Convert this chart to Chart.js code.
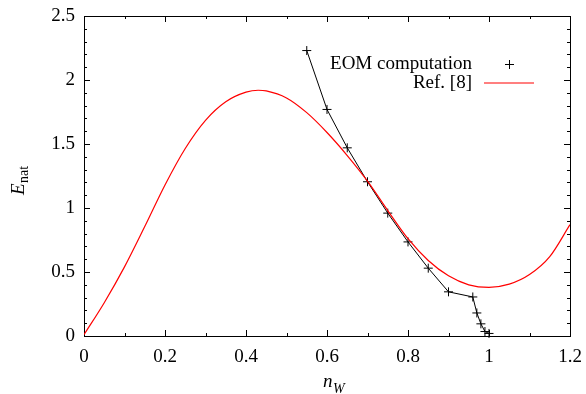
<!DOCTYPE html>
<html>
<head>
<meta charset="utf-8">
<script src="https://cdn.jsdelivr.net/npm/chart.js@4/dist/chart.umd.min.js"></script>
<style>
  html, body { margin: 0; padding: 0; background: #fff; }
  canvas { display: block; }
</style>
</head>
<body>
<canvas id="chart" width="586" height="394"></canvas>
<script>
// EOM computation (black crosses)
const eomX = [0.55, 0.6, 0.65, 0.7, 0.75, 0.8, 0.85, 0.9, 0.96, 0.97, 0.98, 0.99, 1.0];
const eomY = [2.23, 1.77, 1.47, 1.205, 0.96, 0.735, 0.53, 0.345, 0.305, 0.18, 0.095, 0.035, 0.02];

// Ref. [8] (red curve)
const refX = [0, 0.05, 0.1, 0.15, 0.2, 0.25, 0.3, 0.35, 0.4, 0.43, 0.45, 0.5, 0.55, 0.6, 0.65, 0.7, 0.75, 0.8, 0.85, 0.9, 0.95, 1.0, 1.05, 1.1, 1.15, 1.2];
const refY = [0.01, 0.26, 0.54, 0.855, 1.18, 1.465, 1.685, 1.83, 1.905, 1.92, 1.915, 1.86, 1.745, 1.59, 1.41, 1.21, 0.98, 0.76, 0.59, 0.47, 0.40, 0.38, 0.405, 0.48, 0.62, 0.87];

const xTicks = [0, 0.2, 0.4, 0.6, 0.8, 1, 1.2];
const yTicks = [0, 0.5, 1, 1.5, 2, 2.5];
const legendLabels = ['EOM computation', 'Ref. [8]'];

const FONT = '"Liberation Serif", "DejaVu Serif", serif';

const toPoints = (xs, ys) => xs.map((x, i) => ({ x: x, y: ys[i] }));

// frame + inward tick marks on all four sides, titles and legend
const framePlugin = {
    id: 'frame',
    beforeDatasetsDraw(chart) {
        const { ctx, chartArea: a, scales } = chart;
        ctx.save();
        ctx.strokeStyle = '#000';
        ctx.lineWidth = 1;
        ctx.strokeRect(Math.round(a.left) + 0.5, Math.round(a.top) + 0.5,
            Math.round(a.right - a.left), Math.round(a.bottom - a.top));
        ctx.beginPath();
        for (let i = 0; i <= 12; i++) {
            const px = Math.round(scales.x.getPixelForValue(i / 10)) + 0.5;
            const len = i % 2 === 0 ? 6 : 3;
            ctx.moveTo(px, a.bottom); ctx.lineTo(px, a.bottom - len);
            ctx.moveTo(px, a.top); ctx.lineTo(px, a.top + len);
        }
        for (let i = 0; i <= 25; i++) {
            const py = Math.round(scales.y.getPixelForValue(i / 10)) + 0.5;
            const len = i % 5 === 0 ? 6 : 3;
            ctx.moveTo(a.left, py); ctx.lineTo(a.left + len, py);
            ctx.moveTo(a.right, py); ctx.lineTo(a.right - len, py);
        }
        ctx.stroke();
        ctx.restore();
    },
    afterDraw(chart) {
        const { ctx } = chart;
        ctx.save();
        ctx.fillStyle = '#000';
        ctx.textBaseline = 'alphabetic';

        // x title: n_W
        ctx.textAlign = 'left';
        ctx.font = 'italic 19px ' + FONT;
        const nW = ctx.measureText('n').width;
        ctx.fillText('n', 323, 387);
        ctx.font = 'italic 14px ' + FONT;
        ctx.fillText('W', 323 + nW + 0.5, 393);

        // y title: E_nat (rotated)
        ctx.translate(24, 195);
        ctx.rotate(-Math.PI / 2);
        ctx.font = 'italic 19px ' + FONT;
        const eW = ctx.measureText('E').width;
        ctx.fillText('E', 0, 0);
        ctx.font = '14px ' + FONT;
        ctx.fillText('nat', eW + 0.5, 4);
        ctx.setTransform(1, 0, 0, 1, 0, 0);

        // legend
        ctx.font = '19px ' + FONT;
        ctx.textAlign = 'right';
        ctx.textBaseline = 'middle';
        ctx.fillText(legendLabels[0], 472, 64);
        ctx.fillText(legendLabels[1], 472, 83);
        ctx.strokeStyle = '#000';
        ctx.lineWidth = 1;
        ctx.beginPath();
        ctx.moveTo(505, 64.5); ctx.lineTo(514, 64.5);
        ctx.moveTo(509.5, 60); ctx.lineTo(509.5, 69);
        ctx.stroke();
        ctx.strokeStyle = '#ff0000';
        ctx.lineWidth = 1.2;
        ctx.beginPath();
        ctx.moveTo(484, 83); ctx.lineTo(534, 83);
        ctx.stroke();
        ctx.restore();
    }
};

const noPad = s => { s.paddingLeft = 0; s.paddingRight = 0; s.paddingTop = 0; s.paddingBottom = 0; };

function draw() {
    new Chart(document.getElementById('chart'), {
        type: 'line',
        data: {
            datasets: [
                {
                    label: legendLabels[1],
                    data: toPoints(refX, refY),
                    borderColor: '#ff0000',
                    borderWidth: 1.2,
                    pointRadius: 0,
                    cubicInterpolationMode: 'monotone',
                    fill: false,
                    order: 0
                },
                {
                    label: legendLabels[0],
                    data: toPoints(eomX, eomY),
                    borderColor: '#000',
                    backgroundColor: '#000',
                    borderWidth: 1,
                    pointStyle: 'cross',
                    pointRadius: 4.5,
                    pointBorderWidth: 1,
                    pointBorderColor: '#000',
                    tension: 0,
                    fill: false,
                    clip: false,
                    order: 1
                }
            ]
        },
        options: {
            responsive: false,
            devicePixelRatio: 1,
            animation: false,
            layout: { padding: { top: 16, right: 16, left: 0, bottom: 0 } },
            plugins: {
                legend: { display: false },
                tooltip: { enabled: false }
            },
            scales: {
                x: {
                    type: 'linear',
                    min: 0,
                    max: 1.2,
                    afterFit: s => { s.height = 58; noPad(s); },
                    afterBuildTicks: s => { s.ticks = xTicks.map(v => ({ value: v })); },
                    grid: { display: false, drawTicks: false },
                    border: { display: false },
                    ticks: {
                        color: '#000',
                        font: { family: FONT, size: 19 },
                        padding: 10,
                        maxRotation: 0,
                        autoSkip: false,
                        callback: v => String(+v.toFixed(1))
                    }
                },
                y: {
                    type: 'linear',
                    min: 0,
                    max: 2.5,
                    afterFit: s => { s.width = 84; noPad(s); },
                    afterBuildTicks: s => { s.ticks = yTicks.map(v => ({ value: v })); },
                    grid: { display: false, drawTicks: false },
                    border: { display: false },
                    ticks: {
                        color: '#000',
                        font: { family: FONT, size: 19 },
                        padding: 9,
                        autoSkip: false,
                        callback: v => String(+v.toFixed(1))
                    }
                }
            }
        },
        plugins: [framePlugin]
    });
}

Promise.all([
    document.fonts.load('19px "Liberation Serif"'),
    document.fonts.load('italic 19px "Liberation Serif"')
]).then(draw, draw);
</script>
</body>
</html>
